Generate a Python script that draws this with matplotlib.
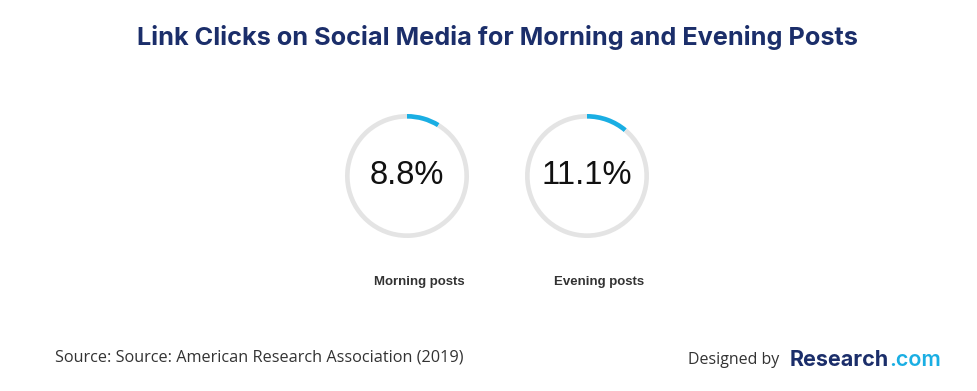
import matplotlib.pyplot as plt

# data
labels = ["Morning posts", "Evening posts"]
values = [8.8, 11.1]
value_text = ["8.8%", "11.1%"]

W, H = 977, 391
fig = plt.figure(figsize=(W / 100, H / 100), dpi=100)
fig.patch.set_facecolor("white")

navy = "#1B2E6A"
blue = "#1AAEE3"
ring = "#E4E4E4"

# ring centres in pixels (image coords)
centres = [(407, 176), (587, 176)]
r_px = 62

for (cx, cy), v, txt, lab in zip(centres, values, value_text, labels):
    ax = fig.add_axes([(cx - r_px) / W, 1 - (cy + r_px) / H, 2 * r_px / W, 2 * r_px / H])
    ax.pie([v, 100 - v], colors=[blue, ring], startangle=90, counterclock=False,
           radius=1.0, wedgeprops=dict(width=0.075, edgecolor="none"))
    ax.set_aspect("equal")
    ax.set_xlim(-1, 1)
    ax.set_ylim(-1, 1)
    ax.axis("off")
    fig.text(cx / W, 1 - 175 / H, txt, ha="center", va="center", fontsize=23.5,
             family="Liberation Sans", color="#111111")
    fig.text((cx + 12) / W, 1 - 282 / H, lab, ha="center", va="center", fontsize=9.5,
             family="Liberation Sans", weight="bold", color="#333333")

fig.text(497 / W, 1 - 37 / H, "Link Clicks on Social Media for Morning and Evening Posts",
         ha="center", va="center", fontsize=18.2, family="Inter", weight="bold", color=navy)

fig.text(55 / W, 1 - 358 / H, "Source: Source: American Research Association (2019)",
         ha="left", va="center", fontsize=11.7, family="Open Sans", color="#333333")

# footer logo
fig.text(688 / W, 1 - 360 / H, "Designed by", ha="left", va="center",
         fontsize=11.5, family="Open Sans", color="#333333")
brand = fig.text(790 / W, 1 - 360 / H, "Research", ha="left", va="center",
                 fontsize=15.5, family="Inter", weight="bold", color=navy)
fig.canvas.draw()
x_end = brand.get_window_extent().x1 / W
fig.text(x_end, 1 - 360 / H, ".com", ha="left", va="center", fontsize=15.5,
         family="Inter", weight="semibold", color=blue)

fig.savefig("out.png", dpi=100, facecolor="white")
